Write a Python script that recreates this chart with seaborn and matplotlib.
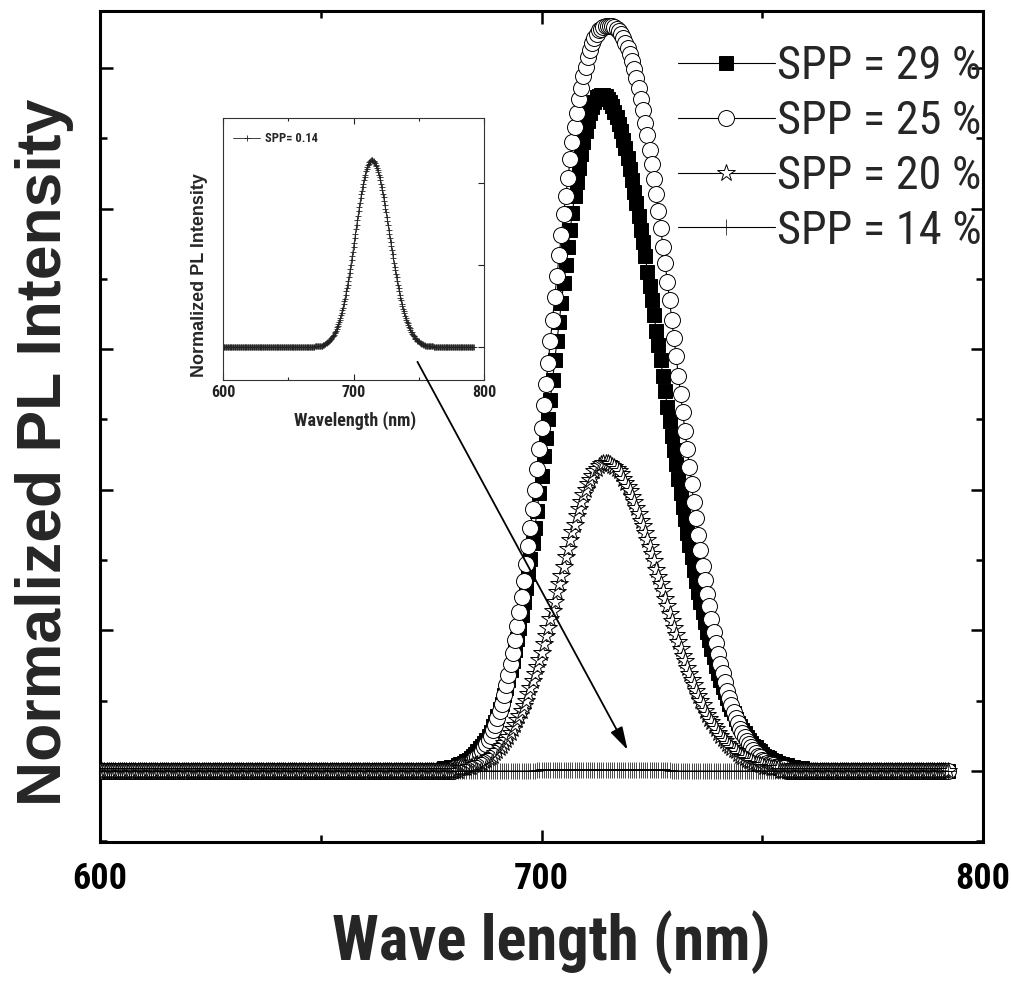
import numpy as np
import seaborn as sns
import matplotlib
matplotlib.use("Agg")
import matplotlib.pyplot as plt
from matplotlib.ticker import MultipleLocator

# ---------------- data ----------------
# wavelength grid of the spectra (nm), 0.5 nm sampling
wavelength = np.arange(600, 792.5, 0.5)

# intensities in hundredths of one major y-tick; zero outside the listed band
spp29_start = 678.0
spp29_peak = [2, 2, 2, 3, 3, 3, 4, 5, 5, 6, 7, 8, 9, 11, 12, 14, 16, 18, 20, 22, 25, 28, 32, 35, 39, 44,
              48, 54, 59, 65, 72, 78, 86, 94, 102, 111, 120, 130, 140, 151, 162, 173, 185, 198, 210, 224,
              237, 250, 264, 278, 292, 306, 319, 333, 347, 360, 373, 385, 397, 409, 419, 429, 439, 447,
              455, 462, 468, 472, 476, 479, 480, 481, 481, 480, 478, 476, 473, 469, 465, 460, 455, 449,
              443, 436, 428, 420, 412, 404, 395, 385, 376, 366, 355, 345, 335, 324, 313, 303, 292, 281,
              270, 259, 249, 238, 228, 218, 208, 198, 188, 179, 169, 161, 152, 143, 135, 127, 120, 113,
              106, 99, 93, 87, 81, 75, 70, 65, 60, 56, 52, 48, 44, 41, 37, 34, 32, 29, 27, 24, 22, 20,
              18, 17, 15, 14, 12, 11, 10, 9, 8, 7, 7, 6, 5, 5, 4, 4, 3, 3, 3, 2, 2, 2, 2]

spp25_start = 680.5
spp25_peak = [2, 2, 3, 3, 4, 4, 5, 6, 8, 9, 10, 12, 14, 17, 19,
              22, 25, 29, 33, 38, 43, 48, 54, 61, 68, 76, 84, 93, 103, 113,
              124, 135, 147, 160, 173, 186, 200, 215, 229, 244, 260, 275, 290, 306, 321,
              337, 352, 367, 381, 396, 409, 422, 435, 447, 458, 468, 478, 486, 494, 501,
              508, 513, 518, 521, 524, 527, 528, 529, 530, 530, 530, 530, 529, 528, 526,
              524, 521, 518, 514, 510, 505, 499, 493, 486, 478, 470, 461, 452, 442, 432,
              421, 410, 398, 386, 373, 361, 348, 335, 321, 308, 295, 281, 268, 255, 242,
              229, 216, 204, 191, 180, 168, 157, 146, 136, 126, 117, 108, 99, 91, 83,
              76, 70, 63, 57, 52, 47, 42, 38, 34, 30, 27, 24, 21, 19, 17,
              15, 13, 11, 10, 8, 7, 6, 5, 5, 4, 3, 3, 2, 2, 2]

spp20_start = 681.5
spp20_peak = [2, 2, 2, 2, 3, 3, 4, 4, 5, 6, 6, 7, 8, 9, 10,
              11, 13, 14, 16, 18, 20, 22, 24, 27, 30, 33, 36, 39, 43, 46,
              50, 55, 59, 64, 69, 74, 79, 84, 90, 96, 102, 108, 114, 120, 127,
              133, 139, 145, 152, 158, 164, 170, 175, 181, 186, 191, 196, 200, 204, 207,
              210, 213, 215, 217, 218, 219, 219, 219, 218, 217, 216, 215, 213, 211, 208,
              205, 202, 199, 195, 191, 187, 183, 178, 174, 169, 164, 159, 154, 149, 143,
              138, 133, 128, 122, 117, 112, 107, 102, 97, 92, 87, 82, 78, 73, 69,
              65, 61, 57, 53, 50, 47, 43, 40, 37, 35, 32, 30, 27, 25, 23,
              21, 19, 18, 16, 15, 14, 12, 11, 10, 9, 8, 7, 7, 6, 5,
              5, 4, 4, 3, 3, 3, 2, 2, 2, 2]

spp14_start = 699.0
spp14_peak = [1, 1, 1, 1, 1, 1, 1, 1, 1, 1, 1, 1, 1, 1, 1, 1, 1, 1, 1, 1, 1, 1, 1, 1, 1, 1, 1, 1, 1, 1, 1,
              1, 1, 1, 1, 1, 1, 1, 1, 1, 1, 1, 1, 1, 1, 1, 1, 1, 1, 1, 1, 1, 1, 1, 1, 1, 1, 1, 1, 1, 1]

inset_start = 670.5
inset_peak = [1, 1, 1, 1, 1, 1, 1, 1, 2, 2, 2, 2, 3, 3, 3, 4, 4, 5, 5, 6, 6, 7, 8, 9, 10, 11, 12, 13, 14,
              15, 17, 19, 20, 22, 24, 26, 28, 31, 33, 36, 39, 42, 45, 48, 52, 56, 59, 63, 68, 72, 76, 81,
              86, 90, 95, 100, 106, 111, 116, 122, 127, 133, 138, 144, 149, 155, 160, 166, 171, 176, 181,
              186, 190, 195, 199, 203, 207, 210, 214, 217, 219, 222, 223, 225, 226, 227, 228, 228, 228,
              227, 227, 226, 224, 222, 220, 218, 216, 213, 210, 207, 203, 199, 195, 191, 187, 183, 178,
              173, 168, 164, 159, 154, 149, 143, 138, 133, 128, 123, 118, 113, 108, 103, 98, 94, 89, 85,
              80, 76, 72, 68, 64, 60, 57, 53, 50, 47, 44, 41, 38, 36, 33, 31, 29, 27, 25, 23, 21, 19, 18,
              16, 15, 14, 13, 11, 10, 10, 9, 8, 7, 7, 6, 5, 5, 4, 4, 4, 3, 3, 3, 2, 2, 2, 2, 1, 1, 1, 1,
              1, 1, 1, 1, 1]

labels = ['SPP = 29 %', 'SPP = 25 %', 'SPP = 20 %', 'SPP = 14 %']
inset_label = 'SPP= 0.14'
tick_labels = ['600', '700', '800']


def spectrum(start, peak):
    y = np.zeros_like(wavelength)
    i0 = int(round((start - wavelength[0]) / 0.5))
    vals = np.asarray(peak, dtype=float) / 100.0
    n = min(len(vals), len(y) - i0)
    y[i0:i0 + n] = vals[:n]
    return y


spp29 = spectrum(spp29_start, spp29_peak)
spp25 = spectrum(spp25_start, spp25_peak)
spp20 = spectrum(spp20_start, spp20_peak)
spp14 = spectrum(spp14_start, spp14_peak)
inset_y = spectrum(inset_start, inset_peak)

# ---------------- style ----------------
sns.set_theme(style="ticks")
NARROW = 'Roboto Condensed'
SANS = 'Liberation Sans'
plt.rcParams['font.family'] = [SANS, 'DejaVu Sans']

W, H = 1011, 981
fig = plt.figure(figsize=(W / 100, H / 100), dpi=100)
ax = fig.add_axes([100 / W, 1 - 842 / H, 883 / W, 831 / H])

common = dict(ax=ax, estimator=None, sort=False, color='black', linewidth=0.8)
sns.lineplot(x=wavelength, y=spp29, marker='s', markersize=10, mfc='black', mec='black', mew=0.7, zorder=2, **common)
sns.lineplot(x=wavelength, y=spp25, marker='o', markersize=11.5, mfc='white', mec='black', mew=0.7, zorder=3, **common)
sns.lineplot(x=wavelength, y=spp20, marker='*', markersize=13, mfc='white', mec='black', mew=0.7, zorder=4, **common)
sns.lineplot(x=wavelength, y=spp14, marker='+', markersize=11, mfc='black', mec='black', mew=0.5, zorder=5, **common)

ax.set_xlim(600, 800)
ax.set_ylim(-0.505, 5.405)
ax.set_xticks([600, 700, 800])
ax.set_xticklabels(tick_labels, fontsize=26, fontweight='bold', fontfamily=NARROW)
ax.xaxis.set_minor_locator(MultipleLocator(50))
ax.yaxis.set_major_locator(MultipleLocator(1))
ax.yaxis.set_minor_locator(MultipleLocator(0.5))
ax.tick_params(which='both', direction='in', top=True, right=True, width=1.8, colors='black')
ax.tick_params(which='major', length=9)
ax.tick_params(which='minor', length=5)
ax.tick_params(axis='y', labelleft=False)
ax.tick_params(axis='x', pad=14)
for s in ax.spines.values():
    s.set_linewidth(2.2)
    s.set_color('black')

ax.set_xlabel('Wave length (nm)', fontsize=45, fontweight='bold', fontfamily=NARROW, va='center')
ax.xaxis.set_label_coords(0.511, -0.120)
ax.set_ylabel('Normalized PL Intensity', fontsize=45, fontweight='bold', fontfamily=SANS, va='center')
ax.yaxis.set_label_coords(-0.063, 0.469)

leg = ax.legend(handles=ax.lines[:4], labels=labels, loc='upper left',
                bbox_to_anchor=(678 / W, 1 - 44 / H), bbox_transform=fig.transFigure,
                frameon=False, prop={'family': NARROW, 'size': 33.4}, handlelength=2.09, handletextpad=0.04,
                labelspacing=0.235, borderpad=0, borderaxespad=0, numpoints=1)
leg.set_zorder(10)

# ---------------- inset ----------------
ins = fig.add_axes([223 / W, 1 - 380 / H, 261 / W, 262 / H])
sns.lineplot(x=wavelength, y=inset_y, ax=ins, estimator=None, sort=False, color='#222222', linewidth=0.6,
             marker='+', markersize=4, mec='#222222', mew=0.6)
ins.set_xlim(600, 800)
ins.set_ylim(-0.40, 2.79)
ins.set_xticks([600, 700, 800])
ins.set_xticklabels(tick_labels, fontsize=11.5, fontweight='bold', fontfamily=NARROW)
ins.xaxis.set_minor_locator(MultipleLocator(50))
ins.set_yticks([0, 1, 2])
ins.tick_params(which='both', direction='in', top=True, right=True, left=False, width=0.8, colors='#222222')
ins.tick_params(which='major', length=4)
ins.tick_params(which='minor', length=2.5)
ins.tick_params(axis='y', labelleft=False)
ins.tick_params(axis='x', pad=3.5)
for s in ins.spines.values():
    s.set_linewidth(0.8)
    s.set_color('#333333')
ins.set_xlabel('Wavelength (nm)', fontsize=13, fontweight='bold', fontfamily=NARROW, va='center')
ins.xaxis.set_label_coords(0.506, -0.156)
ins.set_ylabel('Normalized PL Intensity', fontsize=13, fontweight='bold', fontfamily=SANS, va='center')
ins.yaxis.set_label_coords(-0.09, 0.40)
ins.legend(handles=ins.lines[:1], labels=[inset_label], loc='upper left',
           bbox_to_anchor=(233 / W, 1 - 132 / H), bbox_transform=fig.transFigure,
           frameon=False, prop={'family': NARROW, 'weight': 'bold', 'size': 9},
           handlelength=2.16, handletextpad=0.4, borderpad=0, borderaxespad=0, numpoints=1)

# arrow from the inset towards the SPP = 14 % curve
ins.annotate('', xy=(719.5, 0.15), xycoords=ax.transData, xytext=(671.9, 2.91), textcoords=ax.transData,
             arrowprops=dict(arrowstyle='-|>,head_length=0.7,head_width=0.2', lw=1.3, color='black',
                             mutation_scale=20, shrinkA=0, shrinkB=0), annotation_clip=False)

fig.savefig('out.png', dpi=100)
